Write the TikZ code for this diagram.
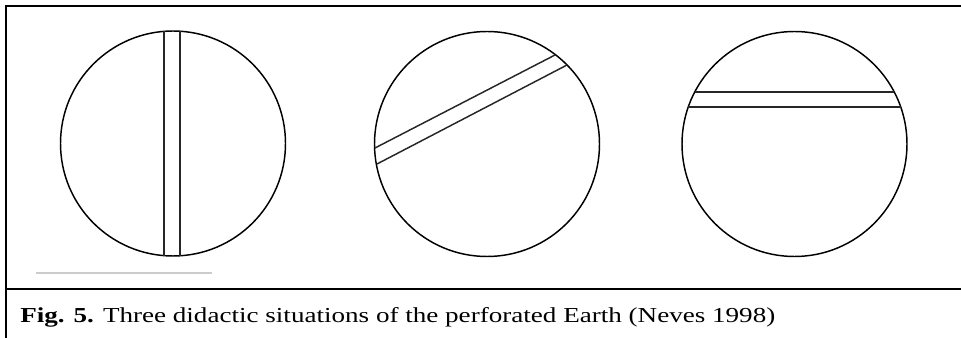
\documentclass[tikz,border=0pt]{standalone}
\usepackage{graphicx}
\usepackage{fontspec}
\setmainfont{Liberation Serif}
\tikzset{
  earth/.style={draw, circle, inner sep=0pt, minimum size=168.75pt, line width=1.1pt},
  hole/.style={draw=black!85, line width=1.1pt},
  frame/.style={line width=1.8pt}
}
\begin{document}
\begin{tikzpicture}[x=0.75pt, y=-0.75pt]
\useasboundingbox (0,0) rectangle (961,338);
% the three pictures of the Earth
\node[earth] (earthA) at (173,143.5) {};
\node[earth] (earthB) at (487,144) {};
\node[earth] (earthC) at (794.5,144) {};
% ends of the holes
\coordinate (a1) at (164,31.4);  \coordinate (a2) at (164,255.6);
\coordinate (a3) at (180,31.2);  \coordinate (a4) at (180,255.8);
\coordinate (b1) at (375,148);   \coordinate (b2) at (555,55);
\coordinate (b3) at (377,164);   \coordinate (b4) at (567,65);
\coordinate (c1) at (694.7,92);  \coordinate (c2) at (894.3,92);
\coordinate (c3) at (688.3,107); \coordinate (c4) at (900.7,107);
% the holes through it
\draw[hole] (a1) -- (a2);
\draw[hole] (a3) -- (a4);
\draw[hole] (b1) -- (b2);
\draw[hole] (b3) -- (b4);
\draw[hole] (c1) -- (c2);
\draw[hole] (c3) -- (c4);
\coordinate (smudgeL) at (36,273);
\coordinate (smudgeR) at (212,273);
\draw[black!20, line width=0.8pt] (smudgeL) -- (smudgeR);
% frame and caption
\coordinate (topL) at (6,6);
\coordinate (topR) at (961,6);
\coordinate (midL) at (6,289);
\coordinate (midR) at (961,289);
\coordinate (botL) at (6,338);
\draw[frame] (topR) -- (topL) -- (botL);
\draw[frame] (midL) -- (midR);
\node[anchor=base west, inner sep=0pt, font=\fontsize{16pt}{19pt}\selectfont] (caption) at (20,323)
  {\resizebox{566.25pt}{\height}{\textbf{Fig. 5.} Three didactic situations of the perforated Earth (Neves 1998)}};
\end{tikzpicture}
\end{document}
